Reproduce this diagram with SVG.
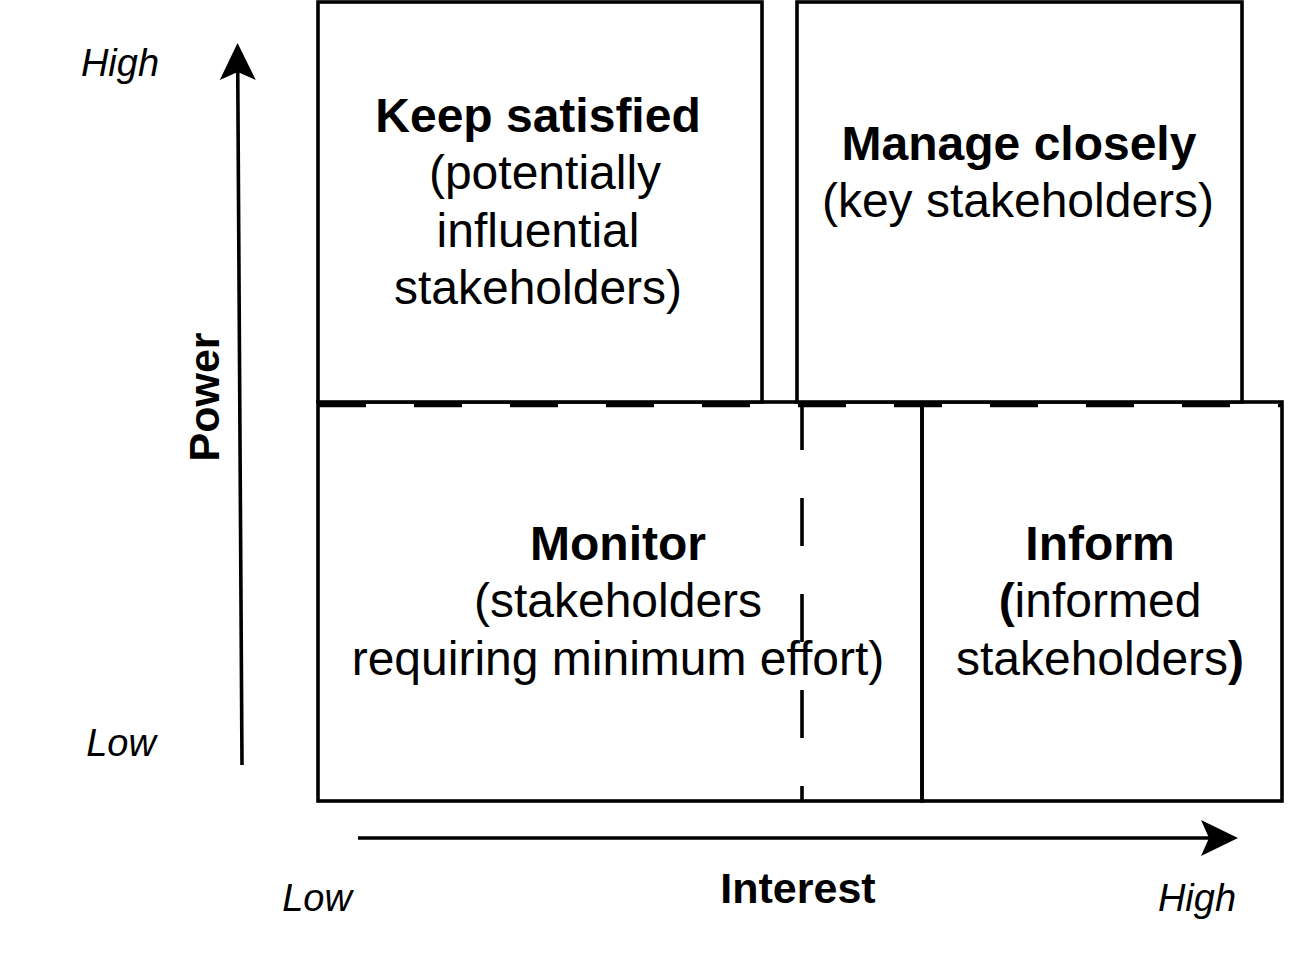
<svg xmlns="http://www.w3.org/2000/svg" width="1316" height="960" viewBox="0 0 1316 960">
<style>
.box{fill:#fff;stroke:#000;stroke-width:3.6}
.dash{fill:none;stroke:#000;stroke-width:3.6;stroke-dasharray:48 48}
.axis{fill:none;stroke:#000;stroke-width:3.6;marker-end:url(#arr)}
.t{font-family:"Liberation Sans",Arial,sans-serif;font-size:48px;fill:#000;text-anchor:middle}
.b{font-weight:bold}
.ax{font-family:"Liberation Sans",Arial,sans-serif;font-size:38px;font-style:italic;fill:#000;text-anchor:middle}
.axb{font-family:"Liberation Sans",Arial,sans-serif;font-size:43px;font-weight:bold;fill:#000;text-anchor:middle}
</style>
<defs>
<marker id="arr" markerUnits="userSpaceOnUse" viewBox="-40 -20 44 40" refX="-6" refY="0" markerWidth="44" markerHeight="40" orient="auto">
<path d="M0,0 L-37,-18 L-29,0 L-37,18 Z" fill="#000"/>
</marker>
</defs>
<rect width="1316" height="960" fill="#fff"/>
<g id="monitor">
<rect class="box" x="318" y="402" width="604" height="399"/>
<text class="t" x="618" y="560"><tspan class="b">Monitor</tspan></text>
<text class="t" x="618" y="617">(stakeholders</text>
<text class="t" x="618" y="675">requiring minimum effort)</text>
</g>
<g id="inform">
<rect class="box" x="922" y="402" width="360" height="399" fill="none" style="fill:none"/>
<text class="t" x="1100" y="560"><tspan class="b">Inform</tspan></text>
<text class="t" x="1100" y="617"><tspan class="b">(</tspan>informed</text>
<text class="t" x="1100" y="675">stakeholders<tspan class="b">)</tspan></text>
</g>
<g id="keep-satisfied">
<rect class="box" x="318" y="2" width="444" height="400"/>
<text class="t b" x="538" y="132">Keep satisfied</text>
<text class="t" x="545" y="189">(potentially</text>
<text class="t" x="538" y="247">influential</text>
<text class="t" x="538" y="304">stakeholders)</text>
</g>
<g id="manage-closely">
<rect class="box" x="797" y="2" width="445" height="400"/>
<text class="t b" x="1019" y="160">Manage closely</text>
<text class="t" x="1018" y="217">(key stakeholders)</text>
</g>
<g id="separators">
<line class="dash" x1="318" y1="405.5" x2="1282" y2="405.5"/>
<line class="dash" x1="802" y1="402" x2="802" y2="801"/>
</g>
<g id="connectors">
<line class="axis" x1="242" y1="765" x2="237.6" y2="49"/>
<line class="axis" x1="358" y1="838" x2="1232" y2="838"/>
</g>
<g id="labels">
<text class="ax" x="120" y="76">High</text>
<text class="ax" x="121" y="756">Low</text>
<text class="axb" transform="translate(219,397) rotate(-90)">Power</text>
<text class="ax" x="317" y="911">Low</text>
<text class="axb" x="798" y="903">Interest</text>
<text class="ax" x="1197" y="911">High</text>
</g>
</svg>
